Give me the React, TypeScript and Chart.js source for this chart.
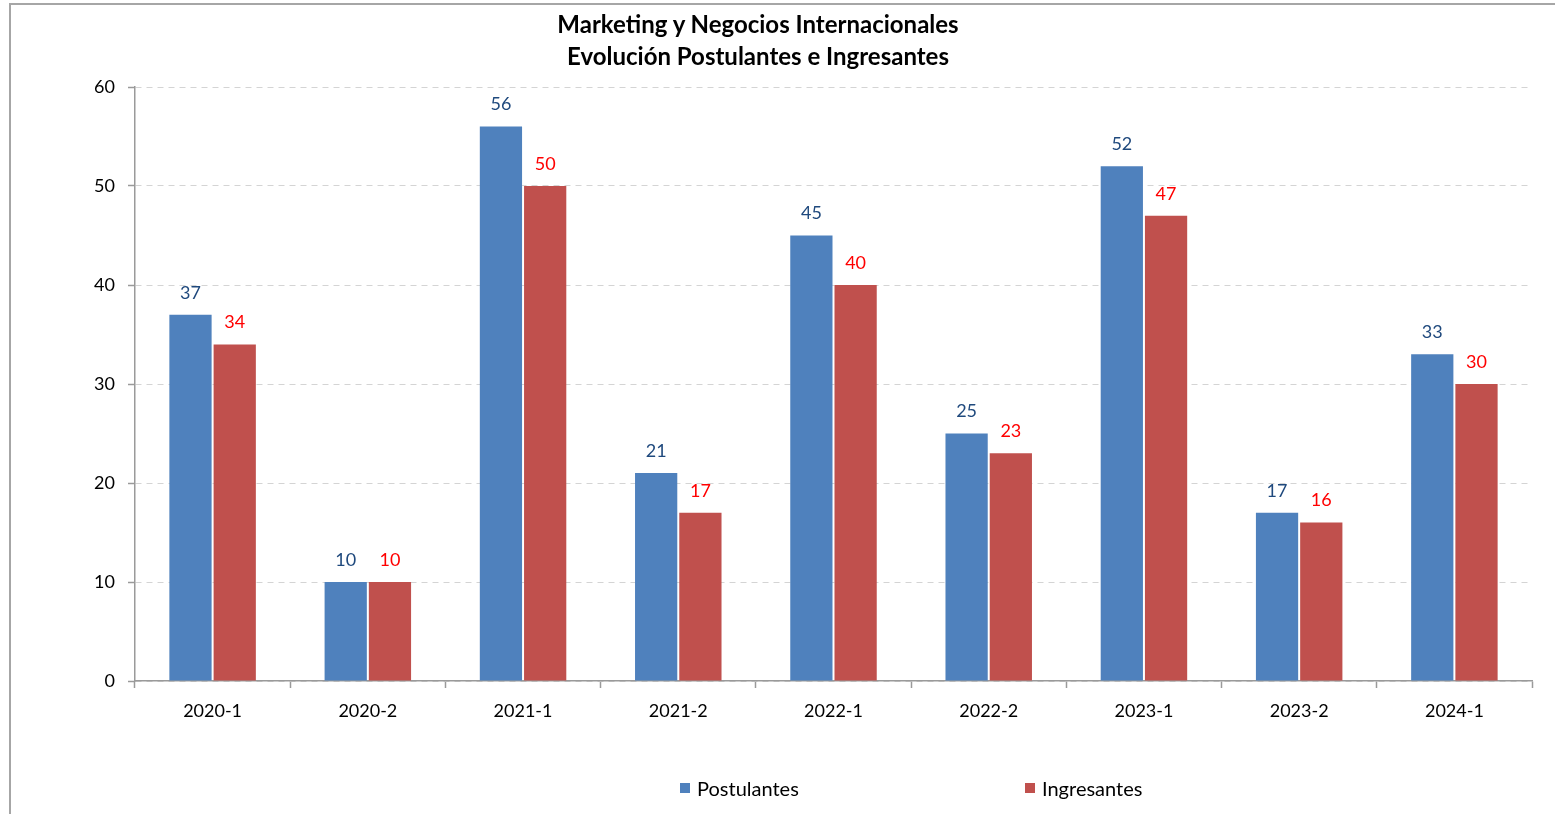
import React, { useEffect, useRef } from "react";
import { Chart, registerables } from "chart.js";

Chart.register(...registerables);

const categories = ["2020-1", "2020-2", "2021-1", "2021-2", "2022-1", "2022-2", "2023-1", "2023-2", "2024-1"];
const postulantes = [37, 10, 56, 21, 45, 25, 52, 17, 33];
const ingresantes = [34, 10, 50, 17, 40, 23, 47, 16, 30];
const seriesNames = ["Postulantes", "Ingresantes"];
const titleLines = ["Marketing y Negocios Internacionales", "Evolución Postulantes e Ingresantes"];

const BLUE = "#4F81BD";
const RED = "#C0504D";
const LABEL_COLORS = ["#1F497D", "#FF0000"];
const FONT = "Lato, Carlito, Calibri, 'Open Sans', sans-serif";

const valueLabels = {
  id: "valueLabels",
  afterDatasetsDraw(chart: any) {
    const ctx = chart.ctx;
    ctx.save();
    ctx.font = `18px ${FONT}`;
    ctx.textAlign = "center";
    ctx.textBaseline = "middle";
    chart.data.datasets.forEach((ds: any, i: number) => {
      const meta = chart.getDatasetMeta(i);
      ctx.fillStyle = LABEL_COLORS[i];
      meta.data.forEach((el: any, j: number) => {
        ctx.fillText(String(ds.data[j]), el.x, el.y - 22);
      });
    });
    ctx.restore();
  },
};

export default function App() {
  const ref = useRef<HTMLCanvasElement>(null);

  useEffect(() => {
    if (!ref.current) return;
    const chart = new Chart(ref.current, {
      type: "bar",
      data: {
        labels: categories,
        datasets: [
          { label: seriesNames[0], data: postulantes, backgroundColor: BLUE },
          { label: seriesNames[1], data: ingresantes, backgroundColor: RED },
        ],
      },
      options: {
        animation: false,
        responsive: false,
        devicePixelRatio: 1,
        layout: { padding: { left: 75, right: 23, top: 87, bottom: 0 } },
        datasets: {
          bar: { categoryPercentage: 0.57, barPercentage: 0.955 },
        },
        plugins: {
          legend: { display: false },
          title: { display: false },
          tooltip: { enabled: false },
        },
        scales: {
          x: {
            grid: {
              offset: true,
              drawOnChartArea: false,
              tickLength: 7,
              tickColor: "#9a9a9a",
              tickWidth: 1.5,
            },
            border: { color: "#9a9a9a", width: 1.5 },
            ticks: { color: "#000", font: { family: FONT, size: 18 }, padding: 12 },
            afterFit(scale: any) {
              scale.height = 133;
            },
          },
          y: {
            min: 0,
            max: 60,
            ticks: { stepSize: 10, color: "#000", font: { family: FONT, size: 18 }, padding: 13 },
            grid: {
              color: "#d4d4d4",
              tickBorderDash: [],
              tickLength: 7,
              tickColor: "#9a9a9a",
              tickWidth: 1.5,
            } as any,
            border: { color: "#9a9a9a", width: 1.5, dash: [6, 5] } as any,
            afterFit(scale: any) {
              scale.width = 60;
            },
          },
        },
      },
      plugins: [valueLabels],
    });
    return () => chart.destroy();
  }, []);

  return (
    <>
      <div
        style={{
          position: "fixed",
          left: 9,
          top: 3,
          width: 1600,
          height: 900,
          border: "2px solid #a6a6a6",
          background: "#fff",
        }}
      />
      <div
        style={{
          position: "fixed",
          left: 0,
          top: 8,
          width: 1516,
          textAlign: "center",
          fontFamily: FONT,
          fontWeight: 700,
          fontSize: 24,
          lineHeight: "32px",
          color: "#000",
        }}
      >
        <div>{titleLines[0]}</div>
        <div>{titleLines[1]}</div>
      </div>
      <canvas
        ref={ref}
        width={1555}
        height={814}
        style={{ position: "fixed", left: 0, top: 0, width: 1555, height: 814 }}
      />
      <div style={{ position: "fixed", left: 0, top: 0, fontFamily: FONT, fontSize: 20, color: "#000" }}>
        <span style={{ position: "absolute", left: 680, top: 783, width: 10, height: 10, background: BLUE }} />
        <span style={{ position: "absolute", left: 697, top: 776, lineHeight: "24px", whiteSpace: "nowrap" }}>{seriesNames[0]}</span>
        <span style={{ position: "absolute", left: 1025, top: 783, width: 10, height: 10, background: RED }} />
        <span style={{ position: "absolute", left: 1042, top: 776, lineHeight: "24px", whiteSpace: "nowrap" }}>{seriesNames[1]}</span>
      </div>
    </>
  );
}
